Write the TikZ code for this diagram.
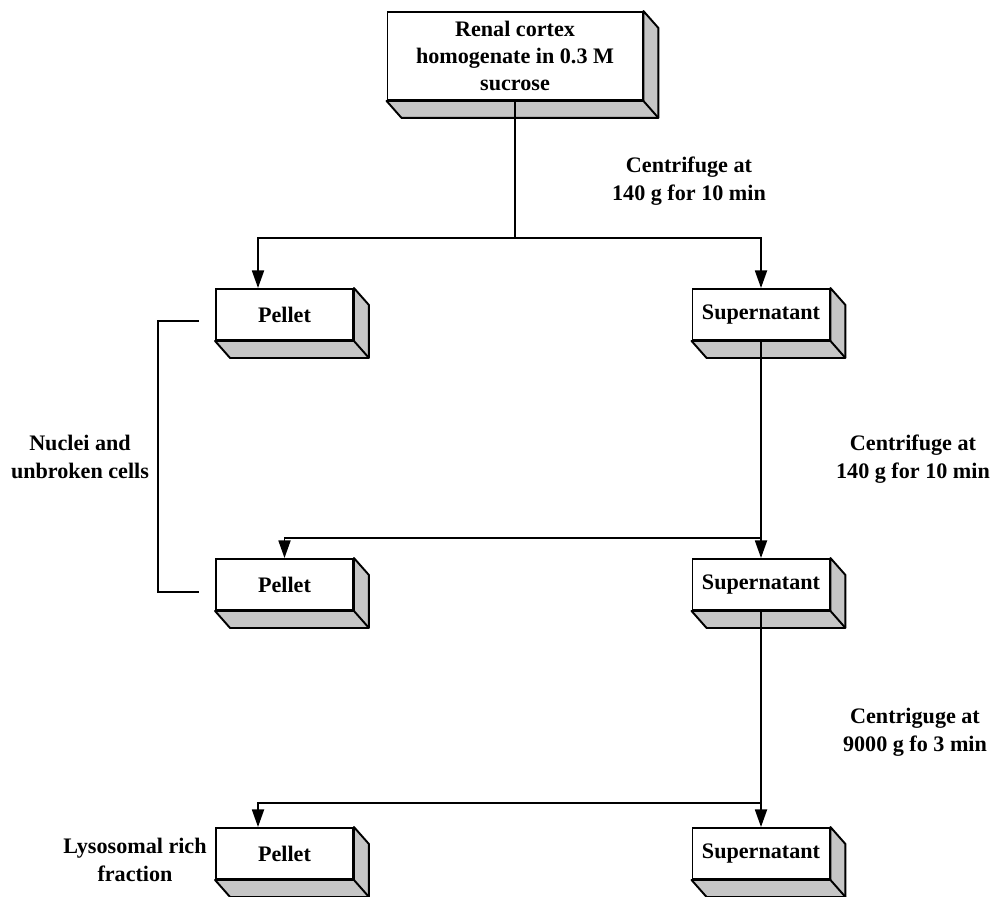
\documentclass[tikz,border=0pt]{standalone}
\usepackage{fontspec}
\setmainfont{Liberation Serif}
\usepackage{tikz}
\usetikzlibrary{calc,arrows.meta,positioning}
\definecolor{SlabGray}{HTML}{C6C6C6}

\tikzset{
  stage/.style={draw, fill=white, line width=1.1pt, inner sep=0pt, align=center,
    font=\fontsize{12.6}{15.3}\selectfont\bfseries, minimum width=2.74cm, minimum height=1.02cm},
  slab/.style={draw, fill=SlabGray, line width=1.1pt, line join=round},
  flow/.style={line width=1.1pt, -{Triangle[length=10pt,width=6.8pt]}},
  link/.style={line width=1.1pt},
  note/.style={align=center, font=\fontsize{12.6}{15.8}\selectfont\bfseries}
}

\begin{document}
\begin{tikzpicture}[x=0.02cm, y=-0.02cm]
  \useasboundingbox (0,0) rectangle (997,896);
  % Homogenate
  \node[stage, minimum width=5.1cm, minimum height=1.76cm] (top) at (515,56)
    {Renal cortex\\homogenate in 0.3 M\\sucrose};
  % Row 1
  \node[stage] (pel1) at (284.5,314.5) {Pellet};
  \node[stage] (sup1) at (761,314.5) {Supernatant};
  % Row 2
  \node[stage] (pel2) at (284.5,584.5) {Pellet};
  \node[stage] (sup2) at (761,584.5) {Supernatant};
  % Row 3
  \node[stage] (pel3) at (284.5,853.5) {Pellet};
  \node[stage] (sup3) at (761,853.5) {Supernatant};
  % Box depth
  \foreach \n in {top,pel1,sup1,pel2,sup2,pel3,sup3}{
    \draw[slab] (\n.south west) -- ++(15,17) -- ($(\n.south east)+(15,17)$)
      -- ($(\n.north east)+(15,17)$) -- (\n.north east) -- (\n.south east) -- cycle;
    \draw[link] (\n.south east) -- ++(15,17);
  }
  % Splits
  \coordinate (j1) at (515,238);
  \coordinate (j2) at (761,538);
  \coordinate (j3) at (761,803);
  \draw[link] (top.south) -- (j1);
  \draw[flow] (j1) -| ([xshift=-0.53cm]pel1.north);
  \draw[flow] (j1) -| (sup1.north);
  \draw[link] (sup1.south) -- (j2);
  \draw[flow] (j2) -| (pel2.north);
  \draw[flow] (j2) -- (sup2.north);
  \draw[link] (sup2.south) -- (j3);
  \draw[flow] (j3) -| ([xshift=-0.53cm]pel3.north);
  \draw[flow] (j3) -- (sup3.north);
  % Bracket
  \coordinate (b1) at (199,321);
  \coordinate (b2) at (199,592);
  \draw[link] (b1) -| ([xshift=-0.82cm]b2) -- (b2);
  % Labels
  \node[note] (spin1) at (689,181) {Centrifuge at\\140 g for 10 min};
  \node[note] (spin2) at (913,459) {Centrifuge at\\140 g for 10 min};
  \node[note] (spin3) at (915,732) {Centriguge at\\9000 g fo 3 min};
  \node[note] (nuc) at (80,457) {Nuclei and\\unbroken cells};
  \node[note] (lyso) at (135,860) {Lysosomal rich\\fraction};
\end{tikzpicture}
\end{document}
